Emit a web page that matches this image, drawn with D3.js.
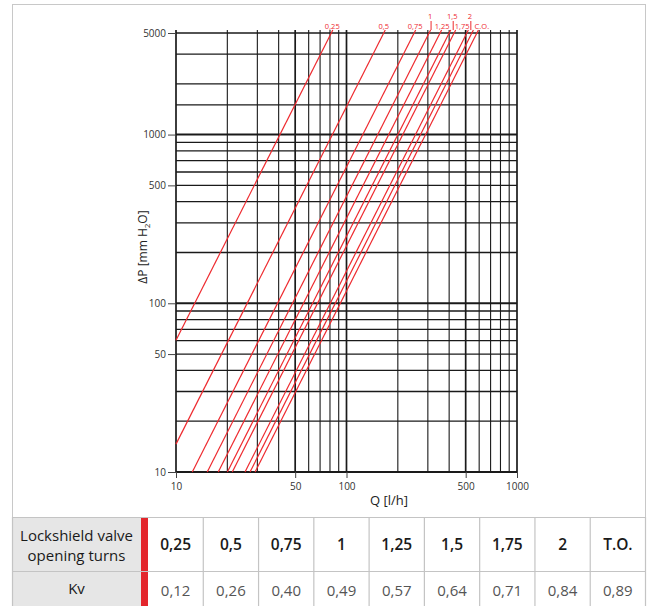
<!DOCTYPE html>
<html><head><meta charset="utf-8">
<script src="https://cdn.jsdelivr.net/npm/d3@7"></script>
<style>
html,body{margin:0;padding:0;background:#fff;}
svg{display:block;font-family:"Open Sans","Noto Sans",sans-serif;}
</style></head>
<body>
<svg id="c" width="649" height="606"></svg>
<script>
// ---------- DATA ----------
// Kv of each red characteristic line
const lineKv = [0.130, 0.264, 0.398, 0.487, 0.565, 0.639, 0.683, 0.811, 0.868, 0.929];
// Top labels and the line each one refers to
const lineLabels = ["0,25","0,5","0,75","1","1,25","1,5","1,75","2","C.O."];
const lineLabelLine = [0,1,2,3,4,5,6,7,8];
// Axis ticks
const xTickValues = [10, 50, 100, 500, 1000];
const xTickLabels = ["10","50","100","500","1000"];
const yTickValues = [10, 50, 100, 500, 1000, 4000];
const yTickLabels = ["10","50","100","500","1000","5000"];
const xGridValues = [10,20,30,40,50,60,70,80,90,100,200,300,400,500,600,700,800,900,1000];
const yGridValues = [10,20,30,40,50,60,70,80,90,100,200,300,400,500,600,700,800,900,1000,1500,2000,3000,4000];
// Table
const tableTurns = ["0,25","0,5","0,75","1","1,25","1,5","1,75","2","T.O."];
const tableKv = [0.12, 0.26, 0.40, 0.49, 0.57, 0.64, 0.71, 0.84, 0.89];

// ---------- LAYOUT ----------
const labelRow = [0,0,0,1,0,1,0,1,0];   // 0 = lower row, 1 = upper row
const labelDx  = [1,0,1,1,2,3,8,3,10];

const svg = d3.select("#c");
const x = d3.scaleLog().domain([10,1000]).range([176,517]);
const y = d3.scaleLog().domain([10,4000]).range([472,33]);
const RED = "#ee2a2f";
const GRID = "#1a1a1a";

// outer box
svg.append("rect").attr("x",12.5).attr("y",4.5).attr("width",633).attr("height",513)
  .attr("fill","none").attr("stroke","#c8c8c8").attr("stroke-width",1);

const major = v => [10,100,1000].includes(v);
// grid
svg.append("g").selectAll("line").data(yGridValues).join("line")
  .attr("x1",x(10)).attr("x2",x(1000))
  .attr("y1",d=>y(d)).attr("y2",d=>y(d))
  .attr("stroke",GRID).attr("stroke-width",d=>major(d)?2:1.3);
svg.append("g").selectAll("line").data(xGridValues).join("line")
  .attr("x1",d=>x(d)).attr("x2",d=>x(d))
  .attr("y1",30).attr("y2",y(10))
  .attr("stroke",GRID).attr("stroke-width",d=>[10,50,100,500,1000].includes(d)?1.7:1.1);

// axes
const yAxis = d3.axisLeft(y).tickValues(yTickValues).tickSize(8).tickPadding(2)
  .tickFormat((d,i)=>yTickLabels[i]);
const gy = svg.append("g").attr("transform",`translate(${x(10)},0)`).call(yAxis);
gy.select(".domain").remove();
gy.selectAll(".tick line").attr("stroke","#444").attr("stroke-width",1);
gy.selectAll(".tick text").attr("font-size",10).attr("fill","#333").attr("font-family","Open Sans");

const xAxis = d3.axisBottom(x).tickValues(xTickValues).tickSize(6).tickPadding(5)
  .tickFormat((d,i)=>xTickLabels[i]);
const gx = svg.append("g").attr("transform",`translate(0,${y(10)})`).call(xAxis);
gx.select(".domain").remove();
gx.selectAll(".tick line").attr("stroke","#444").attr("stroke-width",1);
gx.selectAll(".tick text").attr("font-size",10).attr("fill","#333").attr("font-family","Open Sans");

// axis titles
svg.append("text").attr("x",389).attr("y",505).attr("text-anchor","middle")
  .attr("font-size",13).attr("fill","#222").text("Q [l/h]");
const yt = svg.append("text").attr("transform","translate(147,247) rotate(-90)")
  .attr("text-anchor","middle").attr("font-size",12).attr("fill","#222");
yt.append("tspan").text("\u0394P [mm H");
yt.append("tspan").attr("font-size",8).attr("dy",3).text("2");
yt.append("tspan").attr("dy",-3).text("O]");

// red lines: Q[l/h] = 1000 * Kv * sqrt(dP[mmH2O] / 10197)
const qOf = (kv,dp) => 1000*kv*Math.sqrt(dp/10197);
const dpOf = (kv,q) => Math.pow(q/(1000*kv),2)*10197;
const dpTop = y.invert(30);
const lineG = svg.append("g");
lineKv.forEach(kv=>{
  let dp0 = 10, q0 = qOf(kv,10);
  if(q0<10){ q0 = 10; dp0 = dpOf(kv,10); }
  const q1 = qOf(kv,dpTop);
  lineG.append("line").attr("x1",x(q0)).attr("y1",y(dp0)).attr("x2",x(q1)).attr("y2",y(dpTop))
    .attr("stroke",RED).attr("stroke-width",1.2);
});

// labels
const lab = svg.append("g").attr("font-size",7.5).attr("fill",RED).attr("text-anchor","middle");
lineLabels.forEach((t,i)=>{
  const kv = lineKv[lineLabelLine[i]];
  const cx = x(qOf(kv, y.invert(33))) + labelDx[i];
  const up = labelRow[i]===1;
  lab.append("text").attr("x",cx).attr("y",up?19:29).text(t);
  if(up){
    svg.append("line").attr("x1",cx+1).attr("x2",cx+1).attr("y1",21).attr("y2",30)
      .attr("stroke",RED).attr("stroke-width",1);
  }
});

// ---------- TABLE ----------
const tX0 = 12, tHeadW = 129, barW = 7, tRight = 645.5;
const rowY = [517, 571, 607];
const colX0 = tX0+tHeadW+barW;
const colW = (tRight-colX0)/tableTurns.length;
const tb = svg.append("g");
// header column background
tb.append("rect").attr("x",tX0).attr("y",rowY[0]).attr("width",tHeadW).attr("height",rowY[2]-rowY[0])
  .attr("fill","#e6e6e6");
// red bar
tb.append("rect").attr("x",tX0+tHeadW).attr("y",rowY[0]).attr("width",barW).attr("height",rowY[2]-rowY[0])
  .attr("fill","#e3262c");
// horizontal lines
rowY.slice(0,2).forEach(yy=>{
  tb.append("line").attr("x1",tX0).attr("x2",tRight).attr("y1",yy+0.5).attr("y2",yy+0.5)
    .attr("stroke","#c4c4c4").attr("stroke-width",1.2);
});
// vertical lines
tb.append("line").attr("x1",tX0+0.5).attr("x2",tX0+0.5).attr("y1",rowY[0]).attr("y2",rowY[2])
  .attr("stroke","#c4c4c4").attr("stroke-width",1.2);
tableTurns.forEach((t,i)=>{
  const xx = colX0+colW*(i+1);
  tb.append("line").attr("x1",xx).attr("x2",xx).attr("y1",rowY[0]).attr("y2",rowY[2])
    .attr("stroke","#c4c4c4").attr("stroke-width",1.2);
});
// header text
const hx = tX0+tHeadW/2;
tb.append("text").attr("x",hx).attr("y",541).attr("text-anchor","middle").attr("font-size",15)
  .attr("fill","#1a1a1a").text("Lockshield valve");
tb.append("text").attr("x",hx).attr("y",561).attr("text-anchor","middle").attr("font-size",15)
  .attr("fill","#1a1a1a").text("opening turns");
tb.append("text").attr("x",hx).attr("y",594).attr("text-anchor","middle").attr("font-size",15)
  .attr("fill","#1a1a1a").text("Kv");
tableTurns.forEach((t,i)=>{
  const cx = colX0+colW*(i+0.5);
  tb.append("text").attr("x",cx).attr("y",550).attr("text-anchor","middle").attr("font-size",15.5)
    .attr("font-weight",600).attr("fill","#1a1a1a").text(t);
  tb.append("text").attr("x",cx).attr("y",596).attr("text-anchor","middle").attr("font-size",15)
    .attr("fill","#555").text(d3.format(".2f")(tableKv[i]).replace(".",","));
});
</script>
</body></html>
